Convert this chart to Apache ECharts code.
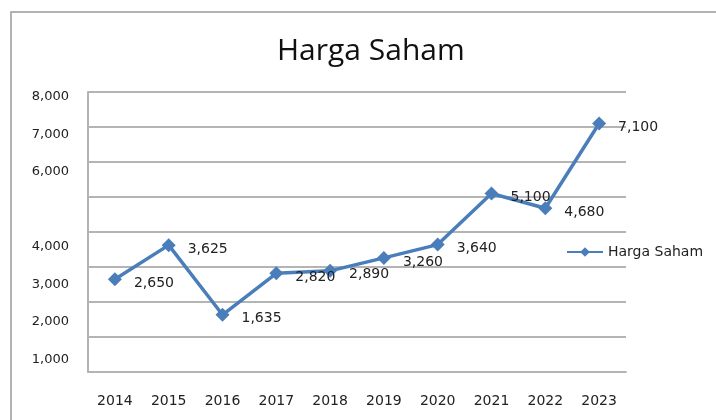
<!DOCTYPE html>
<html>
<head>
<meta charset="utf-8">
<script src="https://cdn.jsdelivr.net/npm/echarts@6/dist/echarts.min.js"></script>
<style>
  html, body { margin: 0; padding: 0; background: #fff; }
  #chart { width: 716px; height: 420px; }
</style>
</head>
<body>
<div id="chart"></div>
<script>
// data
const years = ['2014', '2015', '2016', '2017', '2018', '2019', '2020', '2021', '2022', '2023'];
const hargaSaham = [2650, 3625, 1635, 2820, 2890, 3260, 3640, 5100, 4680, 7100];
// tick labels as printed on the left (5,000 is missing in the original)
const yTickLabels = [1000, 2000, 3000, 4000, 6000, 7000, 8000];

const fmt = (v) => Number(v).toLocaleString('en-US');
const gridGray = '#b4b4b4';
const txtFont = 'DejaVu Sans';

const option = {
    animation: false,
    title: {
        text: 'Harga Saham',
        left: 272,
        top: 31,
        textStyle: {
            fontFamily: 'Open Sans',
            fontSize: 30,
            fontWeight: 'normal',
            color: '#111'
        }
    },
    graphic: [
        {
            type: 'rect',
            shape: { x: 11, y: 12, width: 800, height: 500 },
            style: { fill: 'none', stroke: '#9a9a9a', lineWidth: 1.5 },
            silent: true
        }
    ],
    legend: {
        left: 561,
        top: 240,
        itemWidth: 36,
        itemHeight: 12,
        itemGap: 6,
        data: ['Harga Saham'],
        textStyle: { fontFamily: txtFont, fontSize: 14, color: '#222' }
    },
    grid: { left: 88, top: 92, right: 90, bottom: 48 },
    xAxis: {
        type: 'category',
        data: years,
        boundaryGap: true,
        axisTick: { show: false },
        axisLine: { show: true, lineStyle: { color: gridGray, width: 2 } },
        axisLabel: {
            margin: 22,
            fontFamily: txtFont,
            fontSize: 14,
            color: '#222'
        }
    },
    yAxis: [
        {
            type: 'value',
            min: 0,
            max: 8000,
            interval: 1000,
            axisTick: { show: false },
            axisLabel: { show: false },
            axisLine: { show: true, lineStyle: { color: gridGray, width: 2 } },
            splitLine: { show: true, lineStyle: { color: gridGray, width: 2 } }
        },
        {
            // label-only axis, follows the uneven spacing of the printed labels
            type: 'value',
            position: 'left',
            min: 667,
            max: 8133,
            axisTick: { show: false },
            axisLine: { show: false },
            splitLine: { show: false },
            axisLabel: {
                customValues: yTickLabels,
                formatter: fmt,
                margin: 19,
                fontFamily: txtFont,
                fontSize: 13,
                color: '#222'
            }
        }
    ],
    series: [
        {
            name: 'Harga Saham',
            type: 'line',
            data: hargaSaham,
            yAxisIndex: 0,
            symbol: 'diamond',
            symbolSize: 14,
            itemStyle: { color: '#4a7ebb' },
            lineStyle: { color: '#4a7ebb', width: 3.5 },
            label: {
                show: true,
                position: 'right',
                distance: 12,
                offset: [0, 4],
                formatter: (p) => fmt(p.value),
                fontFamily: txtFont,
                fontSize: 14,
                color: '#222'
            }
        }
    ]
};

const chart = echarts.init(document.getElementById('chart'));
chart.setOption(option);
</script>
</body>
</html>
